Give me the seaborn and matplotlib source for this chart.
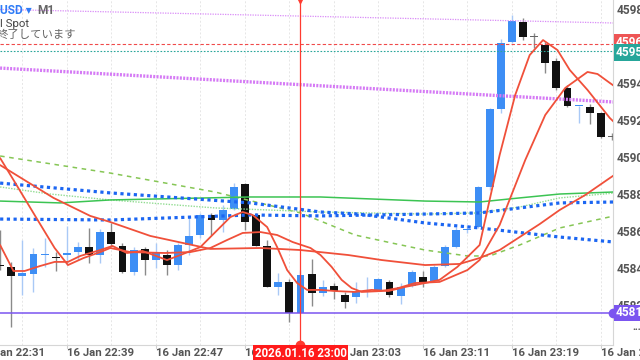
import matplotlib
matplotlib.use("Agg")
import matplotlib.pyplot as plt
import seaborn as sns
import pandas as pd

# ---------------- data ----------------
minutes = list(range(-27, 29))  # minutes relative to 23:00
open_ = [4584.20, 4584.15, 4583.66, 4583.77, 4584.79, 4584.69, 4584.79, 4584.95, 4585.22, 4584.79,
         4586.03, 4585.28, 4583.88, 4585.12, 4584.52, 4584.79, 4584.25, 4585.33, 4585.87, 4586.95,
         4586.68, 4587.27, 4588.62, 4586.95, 4585.28, 4583.07, 4583.34, 4581.67, 4583.77, 4582.74,
         4583.12, 4582.64, 4582.53, 4582.80, 4582.91, 4583.34, 4582.58, 4583.12, 4583.61, 4583.39,
         4584.20, 4585.22, 4586.14, 4586.30, 4588.46, 4592.66, 4596.28, 4597.35, 4596.55, 4596.11,
         4595.25, 4593.80, 4592.81, 4592.77, 4592.45, 4591.15]
high = [4586.14, 4584.42, 4585.60, 4585.17, 4585.71, 4584.95, 4586.36, 4585.49, 4586.25, 4586.19,
        4586.52, 4585.44, 4585.22, 4585.22, 4585.44, 4585.06, 4585.44, 4586.84, 4587.06, 4587.06,
        4587.49, 4588.67, 4588.67, 4587.06, 4585.60, 4583.82, 4583.50, 4583.98, 4584.58, 4583.45,
        4583.28, 4582.80, 4583.34, 4583.61, 4583.55, 4583.45, 4583.28, 4583.98, 4583.93, 4584.25,
        4585.33, 4586.30, 4586.41, 4588.50, 4592.70, 4596.44, 4597.73, 4597.57, 4596.76, 4596.28,
        4595.41, 4593.96, 4592.85, 4592.93, 4592.50, 4591.37]
low = [4583.98, 4580.90, 4582.64, 4582.80, 4584.15, 4583.93, 4584.25, 4584.52, 4584.36, 4584.36,
       4585.28, 4583.82, 4583.71, 4583.71, 4584.09, 4583.71, 4583.98, 4584.79, 4585.71, 4585.87,
       4586.03, 4587.22, 4586.14, 4585.28, 4583.07, 4582.64, 4581.18, 4581.67, 4582.04, 4582.58,
       4582.42, 4581.94, 4582.21, 4582.53, 4582.85, 4582.53, 4582.15, 4583.07, 4583.07, 4583.34,
       4584.15, 4585.17, 4585.98, 4586.25, 4588.30, 4592.45, 4596.22, 4596.38, 4595.95, 4594.60,
       4593.69, 4592.77, 4591.91, 4591.86, 4591.10, 4590.99]
close = [4584.18, 4583.66, 4583.82, 4584.85, 4584.80, 4584.63, 4584.90, 4585.22, 4584.79, 4586.03,
         4585.39, 4583.88, 4585.06, 4584.52, 4584.95, 4584.25, 4585.33, 4585.82, 4586.95, 4586.68,
         4587.22, 4588.46, 4586.57, 4585.28, 4583.07, 4583.34, 4581.67, 4583.71, 4582.74, 4583.07,
         4582.85, 4582.26, 4582.80, 4582.85, 4583.50, 4582.64, 4583.07, 4583.88, 4583.34, 4584.15,
         4585.22, 4586.14, 4586.19, 4588.46, 4592.66, 4596.22, 4597.41, 4596.55, 4596.55, 4595.14,
         4593.80, 4592.83, 4592.83, 4592.45, 4591.15, 4591.15]

# red moving averages (fast / medium / slow)
ma_fast_t = [-27.0, -25.8, -24.8, -23.4, -22.1, -20.9, -19.8, -18.0, -16.9, -15.6, -14.2, -12.0, -10.8,
             -9.0, -8.1, -6.3, -5.2, -4.3, -3.0, -2.1, -1.2, -0.3, 0.6, 1.8, 3.1, 4.9, 6.4, 7.9, 9.4,
             11.2, 12.5, 14.1, 16.1, 17.0, 17.9, 19.3, 20.6, 21.8, 23.1, 24.2, 25.8, 27.8, 28.2]
ma_fast_p = [4585.33, 4583.93, 4583.93, 4584.20, 4584.42, 4584.42, 4584.74, 4585.06, 4585.28, 4584.90,
             4585.01, 4584.52, 4584.79, 4585.22, 4585.76, 4586.84, 4587.11, 4586.95, 4586.30, 4585.22,
             4583.98, 4583.28, 4582.91, 4582.91, 4582.85, 4582.80, 4582.91, 4582.85, 4583.07, 4583.28,
             4583.45, 4584.15, 4585.33, 4587.76, 4590.18, 4593.42, 4595.57, 4596.38, 4595.84, 4594.77,
             4593.69, 4592.18, 4591.95]
ma_mid_t = [-27.0, -25.8, -23.9, -22.1, -20.9, -19.5, -18.0, -17.1, -15.3, -12.2, -9.9, -8.1, -6.6,
            -5.2, -3.6, -2.1, -0.7, 0.9, 1.8, 2.8, 3.7, 4.6, 5.5, 7.3, 8.8, 10.3, 12.5, 15.0, 16.1,
            17.9, 20.2, 22.0, 23.8, 25.8, 26.7, 27.8, 28.2]
ma_mid_p = [4590.02, 4588.84, 4586.95, 4585.17, 4584.25, 4584.63, 4584.95, 4585.17, 4584.95, 4584.90,
            4584.95, 4585.17, 4585.60, 4585.98, 4586.03, 4585.87, 4585.49, 4585.17, 4584.79, 4584.15,
            4583.45, 4583.01, 4582.80, 4582.85, 4583.01, 4583.28, 4583.34, 4583.98, 4584.52, 4586.41,
            4589.91, 4592.34, 4593.80, 4594.66, 4594.55, 4594.07, 4593.90]
ma_slow_t = [-27.0, -22.2, -18.9, -17.1, -13.5, -8.1, -3.6, 0.0, 4.3, 7.3, 11.2, 14.3, 16.1, 17.9,
             19.7, 21.5, 23.3, 25.6, 27.8, 28.2]
ma_slow_p = [4589.64, 4587.87, 4586.90, 4586.57, 4585.82, 4585.12, 4585.17, 4585.06, 4584.79, 4584.52,
             4584.25, 4584.31, 4584.63, 4585.06, 4585.76, 4586.46, 4587.22, 4588.03, 4588.94, 4589.10]

# blue dotted averages
blue1_t = [-27.0, -17.1, -4.5, 1.8, 5.3, 11.2, 16.1, 23.3, 28.2]
blue1_p = [4588.67, 4588.14, 4587.60, 4587.11, 4587.00, 4586.52, 4586.25, 4585.76, 4585.49]
blue2_t = [-27.0, -17.1, -4.5, 1.8, 11.2, 16.1, 23.3, 28.2]
blue2_p = [4586.73, 4586.68, 4586.95, 4586.90, 4587.00, 4587.06, 4587.60, 4587.65]

# green averages
green_t = [-27.0, -21.6, -17.1, -4.5, 1.8, 11.2, 16.1, 19.7, 23.3, 28.2]
green_p = [4587.70, 4587.60, 4587.76, 4587.92, 4587.92, 4587.70, 4587.65, 4587.87, 4588.08, 4588.19]
lgreen_t = [-27.0, -22.5, -17.1, -7.7, 1.8, 11.2, 16.1, 19.7, 23.3, 28.2]
lgreen_p = [4588.46, 4588.08, 4587.76, 4587.33, 4587.11, 4587.00, 4587.06, 4587.38, 4587.87, 4588.13]
dgreen_t = [-27.0, -17.1, -7.7, 0.0, 4.9, 8.2, 11.2, 15.0, 17.0, 19.7, 23.3, 28.2]
dgreen_p = [4590.13, 4589.21, 4588.19, 4587.06, 4585.87, 4585.44, 4585.06, 4584.74, 4584.74, 4585.33,
            4586.25, 4586.90]

# magenta trend lines
mag_thin_t = [-27.0, 28.2]
mag_thin_p = [4598.03, 4597.30]
mag_thick_t = [-27.0, 28.2]
mag_thick_p = [4594.87, 4593.04]

ask_price = 4596.17
bid_price = 4595.79
level_price = 4581.67

price_ticks = [4598, 4596, 4594, 4592, 4590, 4588, 4586, 4584, 4582]
time_tick_minutes = [-29, -21, -13, -5, 3, 11, 19, 27]
time_tick_labels = ["16 Jan 22:31", "16 Jan 22:39", "16 Jan 22:47", "16 Jan 22:55",
                    "16 Jan 23:03", "16 Jan 23:11", "16 Jan 23:19", "16 Jan 23:27"]
cursor_label = "2026.01.16 23:00"
ask_label = "4596.17"
bid_label = "4595.79"
level_label = "4581.67"

# ---------------- style ----------------
sns.set_theme(style="white")
plt.rcParams['font.family'] = ['Roboto', 'DejaVu Sans']

fig = plt.figure(figsize=(6.4, 3.6), dpi=100)
ax = fig.add_axes([0, 15 / 360, 613 / 640, 345 / 360])
x0, x1 = -27.01, 28.09
y0, y1 = 4579.94, 4598.54
ax.set_xlim(x0, x1)
ax.set_ylim(y0, y1)
for s in ["top", "left"]:
    ax.spines[s].set_visible(False)
for s in ["right", "bottom"]:
    ax.spines[s].set_color("#d6d6d6")
    ax.spines[s].set_linewidth(0.8)
ax.set_xticks([])
ax.set_yticks([])

# vertical grid
for m in range(-25, 29, 4):
    ax.axvline(m, color="#e6e6e6", lw=0.7, ls=(0, (2, 2)), zorder=0)

# candles
df = pd.DataFrame({"t": minutes, "o": open_, "h": high, "l": low, "c": close})
blue = "#3d8ef5"
for _, r in df.iterrows():
    if r.c > r.o:
        body, wick = blue, "#a9c9f6"
    elif r.c < r.o:
        body, wick = "#111111", "#8a8a8a"
    else:
        body, wick = "#666666", "#8a8a8a"
    ax.vlines(r.t, r.l, r.h, color=wick, lw=1.0, zorder=2)
    bottom = min(r.o, r.c)
    hgt = max(abs(r.c - r.o), 0.06)
    ax.bar(r.t, hgt, bottom=bottom, width=0.7, color=body, lw=0, zorder=3)

# indicator lines
red = "#f0503a"
def line(t, p, **kw):
    sns.lineplot(x=t, y=p, ax=ax, sort=False, estimator=None, legend=False, **kw)

line(mag_thin_t, mag_thin_p, color="#d98cf7", lw=0.9, linestyle=(0, (1, 1)), zorder=4)
line(mag_thick_t, mag_thick_p, color="#d57af5", lw=2.4, linestyle=(0, (0.6, 0.4)), zorder=4)
line(dgreen_t, dgreen_p, color="#86c655", lw=1.1, linestyle=(0, (3, 3)), zorder=4)
line(lgreen_t, lgreen_p, color="#92dc92", lw=1.0, linestyle=(0, (1, 1)), zorder=4)
line(green_t, green_p, color="#3cc453", lw=1.1, zorder=4)
line(blue1_t, blue1_p, color="#1c66f2", lw=2.3, linestyle=(0, (1, 1.1)), zorder=5)
line(blue2_t, blue2_p, color="#1c66f2", lw=2.3, linestyle=(0, (1, 1.1)), zorder=5)
line(ma_slow_t, ma_slow_p, color=red, lw=1.3, zorder=6)
line(ma_mid_t, ma_mid_p, color=red, lw=1.3, zorder=6)
line(ma_fast_t, ma_fast_p, color=red, lw=1.3, zorder=6)

ax.axhline(ask_price, color="#f04a4a", lw=0.8, ls=(0, (3, 2)), zorder=4)
ax.axhline(bid_price, color="#2aa79b", lw=0.8, ls=(0, (1.5, 1.5)), zorder=4)
ax.axhline(level_price, color="#7b55f0", lw=1.1, zorder=4)
ax.plot([x1], [level_price], "o", ms=6, color="#7b55f0", clip_on=False, zorder=7)

# cursor line
ax.axvline(0, color="#ff3b30", lw=0.9, zorder=7)
ax.plot([0], [y1], marker="v", ms=5, color="#ff3b30", clip_on=True, zorder=8)
ax.plot([0], [y0], marker="o", ms=6, color="#ff3b30", clip_on=True, zorder=8)

# right price labels
ylab = ax.get_yaxis_transform()
for p in price_ticks:
    ax.text(1.0065, p, f"{p}", transform=ylab, ha="left", va="center", fontsize=8.6,
            color="#555555", fontweight="semibold", clip_on=False)

def box_label(price, text, color):
    ax.text(1.004, price, text, transform=ylab, ha="left", va="center", fontsize=8.6,
            color="white", fontweight="semibold", clip_on=False, zorder=10,
            bbox=dict(boxstyle="square,pad=0.15", fc=color, ec="none"))

box_label(ask_price + 0.08, ask_label, "#ee5555")
box_label(bid_price - 0.08, bid_label, "#26a69a")
box_label(level_price, level_label, "#7b55f0")

# time labels
xlab = ax.get_xaxis_transform()
for m, lab in zip(time_tick_minutes, time_tick_labels):
    ax.text(m, -0.024, lab, transform=xlab, ha="left", va="center", fontsize=8.2,
            color="#555555", fontweight="semibold", clip_on=False)
    ax.plot([m, m], [0, -0.008], transform=xlab, color="#cfcfcf", lw=0.8, clip_on=False)
ax.text(0, -0.024, cursor_label, transform=xlab, ha="center", va="center", fontsize=8.3,
        color="white", fontweight="semibold", clip_on=False, zorder=10,
        bbox=dict(boxstyle="square,pad=0.15", fc="#ff1a1a", ec="none"))

# header texts
fig.text(0.0, 1 - 10 / 360, "USD ▾", color="#2f7cf6", fontsize=8.6, fontweight="semibold",
         ha="left", va="center")
fig.text(37 / 640, 1 - 10 / 360, "M1", color="#666666", fontsize=8.6, fontweight="semibold",
         ha="left", va="center")
fig.text(0.0, 1 - 24 / 360, "l Spot", color="#444444", fontsize=8.2, ha="left", va="center")
fig.text(-3 / 640, 1 - 35 / 360, "終了しています", color="#666666", fontsize=8.2,
         family=["Noto Sans CJK JP", "DejaVu Sans"], ha="left", va="center")
fig.text(632 / 640, 1 - 330 / 360, "•••", color="#555555", fontsize=6, ha="left", va="center")

fig.savefig("out.png", dpi=100, facecolor="white")
